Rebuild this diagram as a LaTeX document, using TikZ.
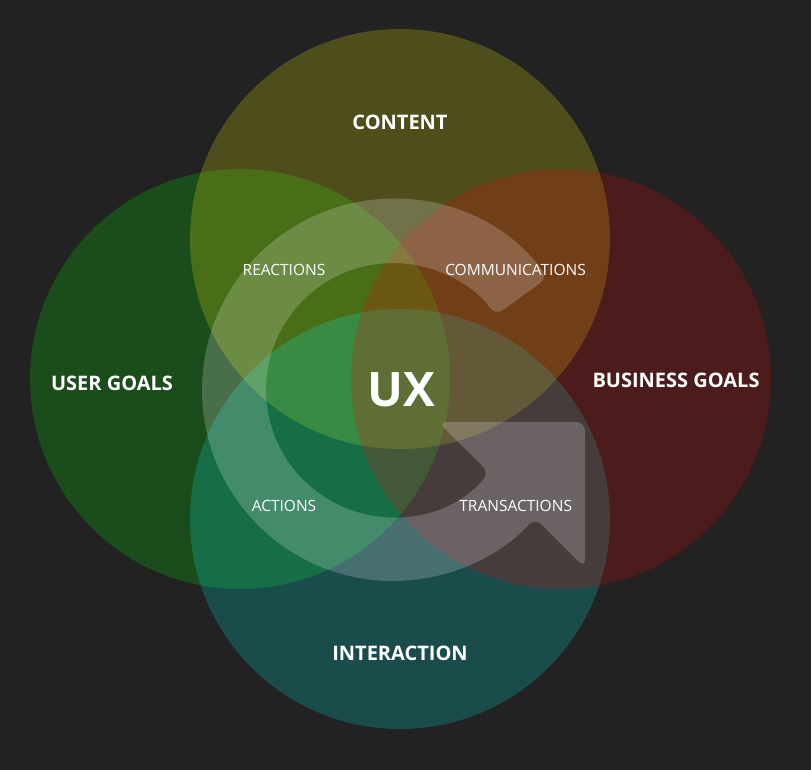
\documentclass[tikz,border=0pt]{standalone}
\usepackage{fontspec}
\setmainfont{Open Sans}
\usetikzlibrary{calc}
\definecolor{bgc}{RGB}{34,34,34}
\definecolor{cleft}{RGB}{0,248,0}
\definecolor{ctop}{RGB}{255,255,10}
\definecolor{cbottom}{RGB}{0,248,244}
\definecolor{cright}{RGB}{248,0,0}
\begin{document}
\begin{tikzpicture}[x=1pt,y=1pt,
  venn/.style={fill opacity=0.2},
  mainlabel/.style={text=white,font=\bfseries\fontsize{20}{24}\selectfont,inner sep=0pt},
  uxlabel/.style={text=white,font=\bfseries\fontsize{47.5}{56}\selectfont,inner sep=0pt},
  sublabel/.style={text=white,font=\fontsize{15.5}{18}\selectfont,inner sep=0pt},
  arrowband/.style={fill=white,fill opacity=0.2,rounded corners=9pt}]
\fill[bgc] (0,0) rectangle (811,770);
\useasboundingbox (0,0) rectangle (811,770);
% circles
\fill[cleft,venn] (240,391) circle[radius=210];
\fill[ctop,venn] (400,531) circle[radius=210];
\fill[cbottom,venn] (400,251) circle[radius=210];
\fill[cright,venn] (561,391) circle[radius=210];
% circular arrow
\coordinate (O) at (393,380);
\coordinate (A) at (438,348);
\coordinate (B) at (585,348);
\coordinate (C) at (585,202);
\fill[arrowband] ($(O)+(36:191)$) arc[start angle=36,end angle=318,radius=191]
  -- (C) -- (B) -- (A) -- ($(O)+(-40.7:127)$)
  arc[start angle=319.3,end angle=36,radius=127] -- cycle;
% labels
\node[mainlabel] (content) at (400,648) {CONTENT};
\node[mainlabel] (usergoals) at (112,387) {USER GOALS};
\node[mainlabel] (businessgoals) at (676,390) {BUSINESS GOALS};
\node[mainlabel] (interaction) at (400,117) {INTERACTION};
\node[uxlabel] (ux) at (401,380) {UX};
\node[sublabel] (reactions) at (284,500) {REACTIONS};
\node[sublabel] (communications) at (515.5,500) {COMMUNICATIONS};
\node[sublabel] (actions) at (284,264.5) {ACTIONS};
\node[sublabel] (transactions) at (515.7,264.5) {TRANSACTIONS};
\end{tikzpicture}
\end{document}
